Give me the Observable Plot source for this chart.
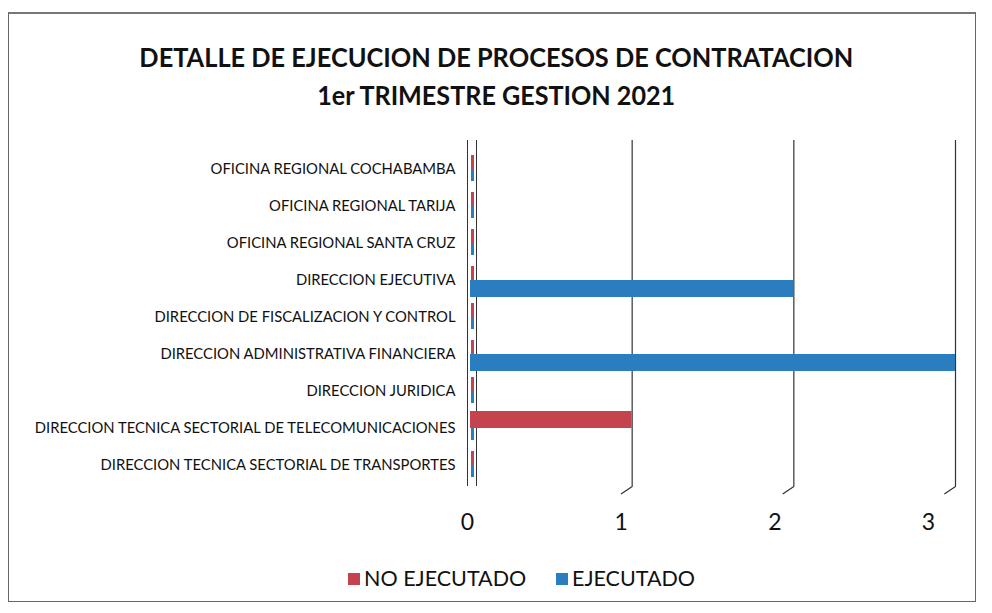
<!DOCTYPE html>
<html><head><meta charset="utf-8">
<script src="https://cdn.jsdelivr.net/npm/d3@7"></script>
<script src="https://cdn.jsdelivr.net/npm/@observablehq/plot@0.6"></script>
<style>
body{margin:0;background:#fff;width:992px;height:613px;position:relative;overflow:hidden;font-family:Lato,"Open Sans",sans-serif;}
#frame{position:absolute;left:8px;top:12px;width:968px;height:590px;border:1px solid #666;border-top:2px solid #777;box-sizing:border-box;}
.t{position:absolute;left:0;width:992px;text-align:center;font-weight:700;font-size:27px;color:#111;line-height:1;}
.t span{display:inline-block;white-space:nowrap;transform-origin:center;}
#chart{position:absolute;left:0;top:130px;}
#xaxis{position:absolute;left:0;top:507px;}
.lg{position:absolute;top:565px;font-size:21.5px;color:#111;line-height:26px;white-space:nowrap;}
.sw{display:inline-block;width:12px;height:12px;margin-right:4px;vertical-align:1px;}
</style></head>
<body>
<div id="frame"></div>
<div class="t" id="t1" style="top:43px"><span>DETALLE DE EJECUCION DE PROCESOS DE CONTRATACION</span></div>
<div class="t" id="t2" style="top:81px"><span>1er TRIMESTRE GESTION 2021</span></div>
<div id="chart"></div>
<div id="xaxis"></div>
<div class="lg" style="left:348px"><span class="sw" style="background:#c4434f"></span>NO EJECUTADO</div>
<div class="lg" style="left:556px"><span class="sw" style="background:#2a7dbf"></span>EJECUTADO</div>
<script>
const categories = [
  "OFICINA REGIONAL COCHABAMBA",
  "OFICINA REGIONAL TARIJA",
  "OFICINA REGIONAL SANTA CRUZ",
  "DIRECCION EJECUTIVA",
  "DIRECCION DE FISCALIZACION Y CONTROL",
  "DIRECCION ADMINISTRATIVA FINANCIERA",
  "DIRECCION JURIDICA",
  "DIRECCION TECNICA SECTORIAL DE TELECOMUNICACIONES",
  "DIRECCION TECNICA SECTORIAL DE TRANSPORTES"
];
const series = ["NO EJECUTADO", "EJECUTADO"];
const noEjecutado = [0, 0, 0, 0, 0, 0, 0, 1, 0];
const ejecutado   = [0, 0, 0, 2, 0, 3, 0, 0, 0];
const xTicks = [0, 1, 2, 3];
const colors = ["#c4434f", "#2a7dbf"];

const rowsNo = categories.map((c, i) => ({cat: c, serie: series[0], v: noEjecutado[i]}));
const rowsSi = categories.map((c, i) => ({cat: c, serie: series[1], v: ejecutado[i]}));
const font = "Lato, 'Open Sans', sans-serif";

const floorShape = {draw(context, l) { context.moveTo(0, 0); context.lineTo(0, -l); }};

function buildMarks(withFloor) {
  const m = [
    Plot.ruleX(xTicks.slice(1), {stroke: "#333", strokeWidth: 1.2, insetTop: -9}),
    Plot.ruleX([0], {stroke: "#333", strokeWidth: 1, dx: -3, insetTop: -9}),
    Plot.ruleX([0], {stroke: "#333", strokeWidth: 1, dx: 6, insetTop: -9}),
    Plot.barX(rowsNo, {y: "cat", x: "v", fill: "serie", insetBottom: 17}),
    Plot.barX(rowsSi, {y: "cat", x: "v", fill: "serie", insetTop: 17}),
    Plot.tickX(rowsNo.filter(d => d.v === 0), {y: "cat", x: "v", stroke: "serie", strokeWidth: 3, dx: 2, insetBottom: 17, insetTop: 3}),
    Plot.tickX(rowsSi.filter(d => d.v === 0), {y: "cat", x: "v", stroke: "serie", strokeWidth: 3, dx: 2, insetTop: 17, insetBottom: 5}),
    Plot.axisY({tickSize: 0, tickPadding: 15, fontSize: 14.8, label: null})
  ];
  if (withFloor) {
    m.push(Plot.vector(xTicks.slice(1), {x: d => d, frameAnchor: "bottom", length: 13, rotate: 236,
      anchor: "start", shape: floorShape, stroke: "#333", strokeWidth: 1.2}));
  }
  return m;
}
function makeChart(withFloor) {
  return Plot.plot({
    width: 992, height: 370,
    marginLeft: 470, marginRight: 37, marginTop: 19, marginBottom: 14,
    style: {fontFamily: font, color: "#111", background: "transparent"},
    x: {domain: [0, 3], axis: null},
    y: {domain: categories, padding: 0.08, label: null, axis: null},
    color: {domain: series, range: colors},
    marks: buildMarks(withFloor)
  });
}
let chart;
try { chart = makeChart(true); } catch (e) { chart = makeChart(false); }
document.getElementById("chart").appendChild(chart);

// x tick labels sit on the chart's perspective floor, so they use a slightly narrower range
const axis = Plot.plot({
  width: 992, height: 36,
  marginLeft: 467, marginRight: 64, marginTop: 0, marginBottom: 36,
  style: {fontFamily: font, color: "#111", background: "transparent"},
  x: {domain: [0, 3], label: null},
  marks: [
    Plot.axisX({ticks: xTicks, tickFormat: d3.format("d"), tickSize: 0, tickPadding: 6, fontSize: 23, label: null})
  ]
});
document.getElementById("xaxis").appendChild(axis);

function fit(id, w) {
  const s = document.querySelector("#" + id + " span");
  const cur = s.getBoundingClientRect().width;
  s.style.transform = "scaleX(" + (w / cur) + ")";
}
fit("t1", 714);
fit("t2", 358);
</script>
</body></html>
